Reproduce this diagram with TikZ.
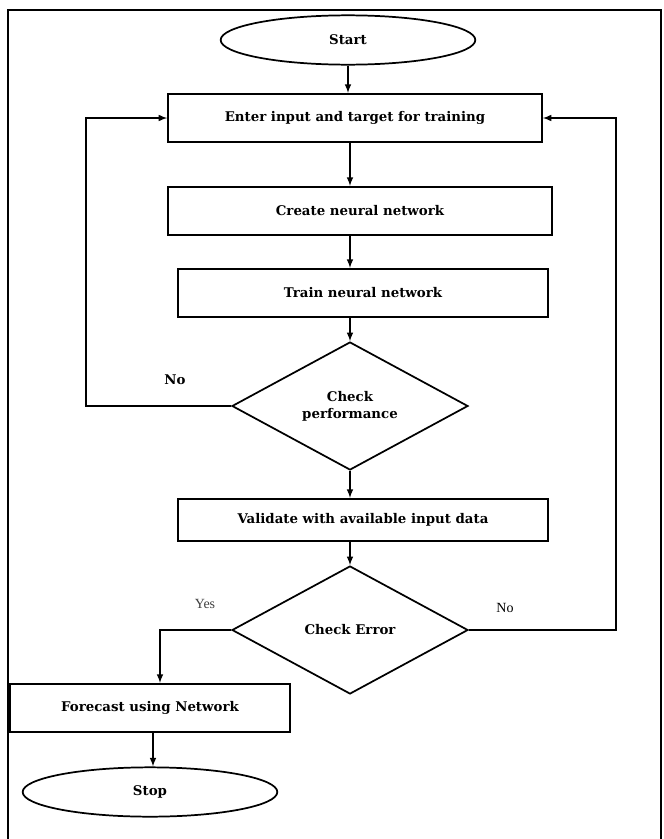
\documentclass[tikz,border=0pt]{standalone}
\usepackage{fontspec}
\setmainfont{Liberation Serif}
\newfontfamily\boxfont{DejaVu Serif}
\usetikzlibrary{shapes.geometric}

\begin{document}
\begin{tikzpicture}[x=0.75pt, y=-0.75pt,
	font=\boxfont\bfseries\fontsize{10}{13}\selectfont,
	box/.style={draw, line width=1.6pt, minimum height=36pt, inner sep=2pt},
	term/.style={draw, ellipse, line width=1.3pt, minimum width=191pt, minimum height=37pt},
	decision/.style={draw, diamond, line width=1.3pt, minimum width=177pt, minimum height=96pt, inner sep=0pt, align=center},
	flow/.style={->, >=latex, line width=1.2pt},
	tag/.style={font=\normalfont\fontsize{10.5}{12}\selectfont}]
	\useasboundingbox (0, 0) rectangle (664, 839);

	% frame
	\draw[line width=1.2pt] (8, 839) -- (8, 10) -- (661, 10) -- (661, 839);

	\node[term] (start) at (348, 40) {Start};
	\node[box, minimum width=280pt] (enter) at (355, 118) {Enter input and target for training};
	\node[box, minimum width=288pt] (create) at (360, 211) {Create neural network};
	\node[box, minimum width=278pt] (train) at (363, 293) {Train neural network};
	\node[decision] (perf) at (350, 406) {Check\\performance};
	\node[box, minimum width=278pt, minimum height=31.5pt] (valid) at (363, 520) {Validate with available input data};
	\node[decision] (err) at (350, 630) {Check Error};
	\node[box, minimum width=210pt] (fore) at (150, 708) {Forecast using Network};
	\node[term] (stop) at (150, 792) {Stop};

	\coordinate (lc) at (86, 0);
	\coordinate (rc) at (616, 0);
	\coordinate (yc) at (160, 0);

	% main line
	\draw[flow] (start) -- (start |- enter.north);
	\draw[flow] (perf |- enter.south) -- (perf |- create.north);
	\draw[flow] (perf |- create.south) -- (perf |- train.north);
	\draw[flow] (perf |- train.south) -- (perf.north);
	\draw[flow] (perf) -- (perf |- valid.north);
	\draw[flow] (perf |- valid.south) -- (err.north);

	% loops back
	\draw[flow] (perf.west) -- (perf.west -| lc) |- (enter.west);
	\draw[flow] (err.east) -- (err.east -| rc) |- (enter.east);
	\draw[flow] (err.west) -| (yc |- fore.north);
	\draw[flow] (fore.south -| yc) ++(-7, 0) coordinate (fs) -- (fs |- stop.north);

	\node (nol) at (175, 380) {No};
	\node[tag, text=black!75] (yes) at (205, 604) {Yes};
	\node[tag] (nor) at (505, 608) {No};
\end{tikzpicture}
\end{document}
